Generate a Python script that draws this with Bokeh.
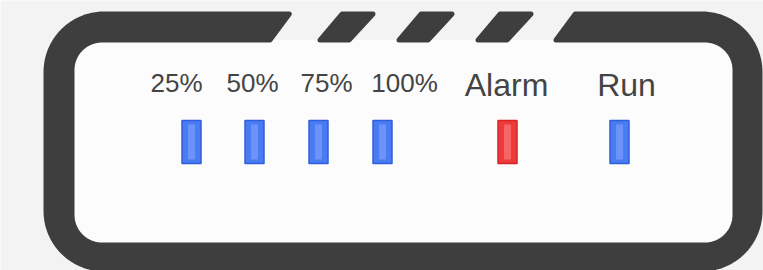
import numpy as np
from bokeh.plotting import figure
from bokeh.models import Range1d, ColumnDataSource
from bokeh.core.properties import value
from bokeh.embed import file_html
from bokeh.resources import INLINE

# ---- data ----
labels = ["25%", "50%", "75%", "100%", "Alarm", "Run"]
led_state = ["on", "on", "on", "on", "alarm", "on"]

# ---- layout (page pixels) ----
label_x = [176, 252, 326, 404, 506, 626]
label_y = [82.5, 82.5, 82.5, 82.5, 84, 84]
label_size = ["26px", "26px", "26px", "26px", "32px", "32px"]
led_x = [191, 254, 318, 382, 507, 619]
led_y = 141.5
led_w, led_h = 19, 43

FRAME = "#3e3e3e"
BG = "#f3f3f3"
INNER = "#fcfcfc"
TEXT = "#444444"
STATE_COL = {"on": ("#2f5fd8", "#4a7bf2", "#86a8ff"),
             "alarm": ("#d42424", "#ee3a3a", "#ff8a8a")}

p = figure(width=763, height=270, x_range=Range1d(0, 763), y_range=Range1d(270, 0),
           output_backend="svg", toolbar_location=None, min_border=0)
p.axis.visible = False
p.xgrid.visible = False
p.ygrid.visible = False
p.outline_line_color = None
p.background_fill_color = BG
p.border_fill_color = BG


def arc(cx, cy, r, a0, a1, n=28):
    a = np.radians(np.linspace(a0, a1, n))
    return list(cx + r * np.cos(a)), list(cy + r * np.sin(a))


h = 2.5  # half stroke width used for rounded corners
# outer box
ox0, ox1, oy0, oy1, R = 43 + h, 762 - h, 11 + h, 271 - h, 58
# inner box
ix0, ix1, iy0, iy1, r = 74 - h, 732 + h, 42 - h, 242 + h, 30
inner_corners = [(ix0 + r, iy0 + r, 270, 180), (ix0 + r, iy1 - r, 180, 90),
                 (ix1 - r, iy1 - r, 90, 0), (ix1 - r, iy0 + r, 0, -90)]
outer_corners = [(ox1 - R, oy0 + R, -90, 0), (ox1 - R, oy1 - R, 0, 90),
                 (ox0 + R, oy1 - R, 90, 180), (ox0 + R, oy0 + R, 180, 270)]

# inner white area
xs, ys = [], []
for (cx, cy, a0, a1) in inner_corners:
    ax, ay = arc(cx, cy, r, a0, a1)
    xs += ax; ys += ay
p.patch(xs, ys, fill_color=INNER, line_color=None)

# ring with opening at top (C-shape)
slant = 23
shift = slant * (iy0 - oy0) / 31.0
cut_left_bottom = 272 - h
cut_right_bottom = 553 + h
xs, ys = [cut_left_bottom], [iy0]
for (cx, cy, a0, a1) in inner_corners:
    ax, ay = arc(cx, cy, r, a0, a1)
    xs += ax; ys += ay
xs += [cut_right_bottom, cut_right_bottom + shift]
ys += [iy0, oy0]
for (cx, cy, a0, a1) in outer_corners:
    ax, ay = arc(cx, cy, R, a0, a1)
    xs += ax; ys += ay
xs += [cut_left_bottom + shift]
ys += [oy0]
p.patch(xs, ys, fill_color=FRAME, line_color=FRAME, line_width=2 * h, line_join="round")

# top dashes
dash_top_left = [339, 418, 497]
dash_w = 36
dxs, dys = [], []
for tl in dash_top_left:
    bl = tl - slant
    dxs.append([bl + h + 1, tl + h, tl + dash_w - h, bl + dash_w - h - 1])
    dys.append([iy0, oy0, oy0, iy0])
p.patches(dxs, dys, fill_color=FRAME, line_color=FRAME, line_width=2 * h, line_join="round")

# labels
src = ColumnDataSource(dict(x=label_x, y=label_y, text=labels, size=label_size))
p.text(x="x", y="y", text="text", source=src, text_font=value("Liberation Sans"),
       text_font_size="size", text_color=TEXT, text_align="center",
       text_baseline="middle")

# LEDs
edge = [STATE_COL[s][0] for s in led_state]
mid = [STATE_COL[s][1] for s in led_state]
hi = [STATE_COL[s][2] for s in led_state]
p.rect(x=led_x, y=[led_y] * len(led_x), width=led_w, height=led_h,
       fill_color=mid, line_color=edge, line_width=1.5)
p.rect(x=led_x, y=[led_y] * len(led_x), width=7, height=led_h - 8,
       fill_color=hi, fill_alpha=0.55, line_color=None)

open("out.html", "w").write(file_html(p, INLINE))
